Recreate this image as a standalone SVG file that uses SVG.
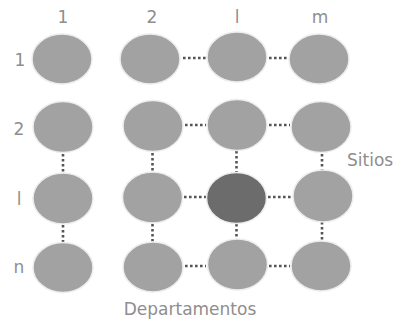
<svg xmlns="http://www.w3.org/2000/svg" width="396" height="322" viewBox="0 0 396 322">
<style>
.n{fill:#a2a2a2;stroke:#ededed;stroke-width:1.5}
.d{fill:#6c6c6c;stroke:#ededed;stroke-width:1.5}
.c line{stroke:#555;stroke-width:2.6;stroke-dasharray:2.6 2.4}
text{font-family:"DejaVu Sans","Liberation Sans",sans-serif;fill:#8e8e8e;font-size:17px;-webkit-font-smoothing:antialiased}
.m{text-anchor:middle}
</style>
<rect width="396" height="322" fill="#fff"/>
<g id="labels">
<text class="m" x="63" y="23">1</text>
<text class="m" x="152" y="23">2</text>
<text class="m" x="237" y="23">l</text>
<text class="m" x="320" y="23">m</text>
<text class="m" x="20" y="66">1</text>
<text class="m" x="19" y="135">2</text>
<text class="m" x="19" y="205">l</text>
<text class="m" x="19" y="273">n</text>
<text x="347" y="166" font-size="16">Sitios</text>
<text class="m" x="190" y="315">Departamentos</text>
</g>
<g class="c" id="connectors">
<line x1="183" y1="58" x2="206" y2="58"/>
<line x1="269" y1="58" x2="288" y2="58"/>
<line x1="185" y1="125" x2="206" y2="125"/>
<line x1="269" y1="125" x2="290" y2="125"/>
<line x1="184" y1="197" x2="206" y2="197"/>
<line x1="268" y1="197" x2="292" y2="197"/>
<line x1="185" y1="266" x2="206" y2="266"/>
<line x1="269" y1="266" x2="290" y2="266"/>
<line x1="63" y1="154" x2="63" y2="172"/>
<line x1="63" y1="225" x2="63" y2="242"/>
<line x1="152.5" y1="153" x2="152.5" y2="172"/>
<line x1="152.5" y1="224" x2="152.5" y2="242"/>
<line x1="236.5" y1="151" x2="236.5" y2="172"/>
<line x1="236.5" y1="224" x2="236.5" y2="240"/>
<line x1="322" y1="154" x2="322" y2="170"/>
<line x1="322" y1="222" x2="322" y2="241"/>
</g>
<g id="n-1-1"><ellipse class="n" cx="62" cy="59" rx="30" ry="25"/></g>
<g id="n-1-2"><ellipse class="n" cx="150" cy="59" rx="30" ry="25"/></g>
<g id="n-1-l"><ellipse class="n" cx="237" cy="57" rx="30" ry="25"/></g>
<g id="n-1-m"><ellipse class="n" cx="319" cy="59" rx="30" ry="25"/></g>
<g id="n-2-1"><ellipse class="n" cx="63" cy="127" rx="30" ry="25.5"/></g>
<g id="n-2-2"><ellipse class="n" cx="153" cy="126" rx="30" ry="25.5"/></g>
<g id="n-2-l"><ellipse class="n" cx="237" cy="125" rx="30" ry="25.5"/></g>
<g id="n-2-m"><ellipse class="n" cx="321" cy="127" rx="30" ry="25.5"/></g>
<g id="n-l-1"><ellipse class="n" cx="63" cy="198.5" rx="30" ry="25.5"/></g>
<g id="n-l-2"><ellipse class="n" cx="152.5" cy="197.5" rx="30" ry="25.5"/></g>
<g id="n-l-l"><ellipse class="d" cx="236.5" cy="198" rx="30" ry="25.5"/></g>
<g id="n-l-m"><ellipse class="n" cx="323" cy="196" rx="30" ry="26"/></g>
<g id="n-n-1"><ellipse class="n" cx="63" cy="267.5" rx="30" ry="25"/></g>
<g id="n-n-2"><ellipse class="n" cx="153" cy="267" rx="30" ry="25"/></g>
<g id="n-n-l"><ellipse class="n" cx="237.5" cy="264.5" rx="30" ry="25.5"/></g>
<g id="n-n-m"><ellipse class="n" cx="321" cy="266" rx="30" ry="25"/></g>
</svg>
